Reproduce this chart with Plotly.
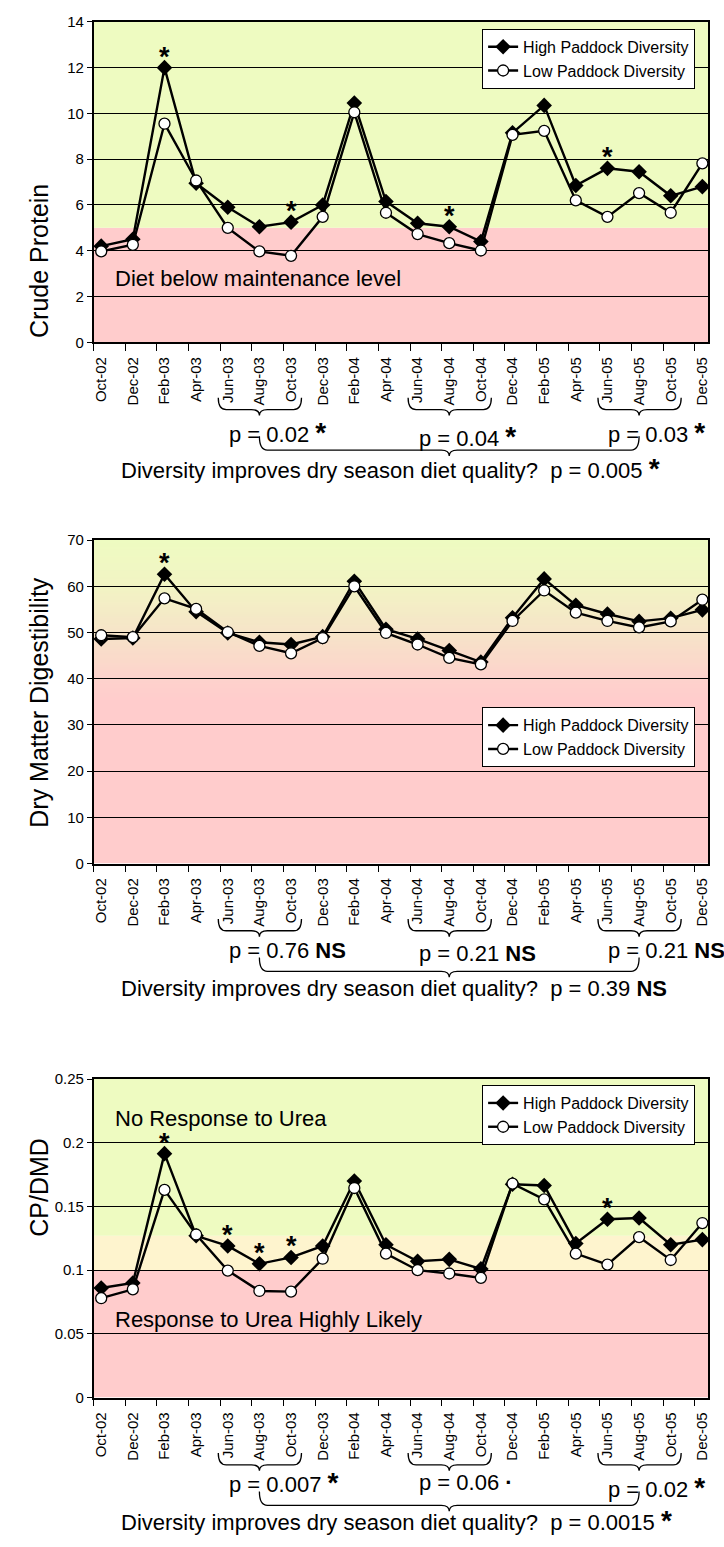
import plotly.graph_objects as go

W, H = 724, 1547
FONT = "Liberation Sans, Arial, sans-serif"

# ---------------- data ----------------
months = ["Oct-02", "Dec-02", "Feb-03", "Apr-03", "Jun-03", "Aug-03", "Oct-03",
          "Dec-03", "Feb-04", "Apr-04", "Jun-04", "Aug-04", "Oct-04", "Dec-04",
          "Feb-05", "Apr-05", "Jun-05", "Aug-05", "Oct-05", "Dec-05"]

cp_high = [4.2, 4.5, 12.0, 6.95, 5.9, 5.05, 5.25, 6.0, 10.45, 6.15,
           5.2, 5.05, 4.4, 9.15, 10.35, 6.85, 7.6, 7.45, 6.4, 6.8]
cp_low = [3.97, 4.26, 9.55, 7.07, 5.0, 3.97, 3.78, 5.48, 10.05, 5.66,
          4.73, 4.33, 4.01, 9.06, 9.24, 6.2, 5.48, 6.52, 5.66, 7.82]

dmd_high = [48.6, 48.8, 62.6, 54.5, 49.9, 47.9, 47.4, 49.1, 61.1, 50.7,
            48.6, 46.1, 43.6, 53.2, 61.6, 55.9, 54.0, 52.4, 53.1, 54.9]
dmd_low = [49.4, 49.0, 57.4, 55.1, 50.1, 47.1, 45.5, 48.8, 60.0, 49.9,
           47.4, 44.5, 43.1, 52.5, 59.1, 54.3, 52.5, 51.1, 52.4, 57.1]

ratio_high = [0.086, 0.090, 0.1915, 0.127, 0.119, 0.105, 0.110, 0.119, 0.170, 0.120,
              0.107, 0.1085, 0.101, 0.1675, 0.1665, 0.121, 0.140, 0.141, 0.120, 0.124]
ratio_low = [0.078, 0.085, 0.163, 0.128, 0.0997, 0.0837, 0.0832, 0.109, 0.1645, 0.113,
             0.100, 0.0974, 0.094, 0.168, 0.1556, 0.113, 0.1044, 0.126, 0.108, 0.137]

# months where the high-diversity value differs significantly
cp_sig = ["Feb-03", "Oct-03", "Aug-04", "Jun-05"]
dmd_sig = ["Feb-03"]
ratio_sig = ["Feb-03", "Jun-03", "Aug-03", "Oct-03", "Jun-05"]

# dry-season groupings and their test results
dry_groups = [("Jun-03", "Aug-03", "Oct-03"),
              ("Jun-04", "Aug-04", "Oct-04"),
              ("Jun-05", "Aug-05", "Oct-05")]
cp_pvals, cp_flags, cp_overall = ["0.02", "0.04", "0.03"], ["*", "*", "*"], ("0.005", "*")
dmd_pvals, dmd_flags, dmd_overall = ["0.76", "0.21", "0.21"], ["NS", "NS", "NS"], ("0.39", "NS")
ratio_pvals, ratio_flags, ratio_overall = ["0.007", "0.06", "0.02"], ["*", "·", "*"], ("0.0015", "*")

cp_ticks = [0, 2, 4, 6, 8, 10, 12, 14]
dmd_ticks = [0, 10, 20, 30, 40, 50, 60, 70]
ratio_ticks = [0, 0.05, 0.1, 0.15, 0.2, 0.25]
ratio_ticktext = ["0", "0.05", "0.1", "0.15", "0.2", "0.25"]

# ---------------- styling ----------------
GREEN = (238, 251, 193)
PINK = (255, 204, 204)
YELLOW = (254, 244, 206)


def rgb(c):
    return "rgb(%d,%d,%d)" % tuple(int(round(v)) for v in c)


def gradient_bands(stops, step):
    """Overlapping horizontal bands interpolated between (value, colour) stops."""
    bands = []
    for (v0, c0), (v1, c1) in zip(stops[:-1], stops[1:]):
        n = max(1, int(round(abs(v1 - v0) / step)))
        for j in range(n):
            a = v0 + (v1 - v0) * j / n
            t = (j + 0.5) / n
            col = tuple(c0[k] + (c1[k] - c0[k]) * t for k in range(3))
            # each band reaches up to the top so later bands cover the seams
            bands.append((a, v1 if j == n - 1 else a + 2 * step, rgb(col)))
    return bands


dmd_bands = [(0, 36, rgb(PINK))] + gradient_bands(
    [(35, PINK), (40, (253, 210, 204)), (50, (246, 228, 200)),
     (60, (242, 244, 196)), (70, GREEN)], 0.5)

panels = [
    dict(high=cp_high, low=cp_low, sig=cp_sig, top=13, bottom=337, rng=[0, 14],
         ticks=cp_ticks, ticktext=[str(t) for t in cp_ticks], title="Crude Protein",
         bands=[(0, 5, rgb(PINK)), (5, 14, rgb(GREEN))], legend_top=20,
         pvals=cp_pvals, flags=cp_flags, overall=cp_overall,
         p_off=(91, 95, 91), div_off=128,
         labels=[("Diet below maintenance level", 2.8)]),
    dict(high=dmd_high, low=dmd_low, sig=dmd_sig, top=537, bottom=864, rng=[0, 70],
         ticks=dmd_ticks, ticktext=[str(t) for t in dmd_ticks],
         title="Dry Matter Digestibility", bands=dmd_bands, legend_top=706,
         pvals=dmd_pvals, flags=dmd_flags, overall=dmd_overall,
         p_off=(88, 91, 88), div_off=126, labels=[]),
    dict(high=ratio_high, low=ratio_low, sig=ratio_sig, top=1082, bottom=1404,
         rng=[0, 0.25], ticks=ratio_ticks, ticktext=ratio_ticktext, title="CP/DMD",
         bands=[(0, 0.1, rgb(PINK)), (0.1, 0.127, rgb(YELLOW)), (0.127, 0.25, rgb(GREEN))],
         legend_top=1088, pvals=ratio_pvals, flags=ratio_flags, overall=ratio_overall,
         p_off=(86, 86, 91), div_off=124,
         labels=[("No Response to Urea", 0.219), ("Response to Urea Highly Likely", 0.0613)]),
]

X_OFF = 0.24                      # sampling point sits just right of its tick
x_pts = [i + X_OFF for i in range(len(months))]
X_RANGE = [0, 19.42]
XDOM = [93 / W, 710 / W]
PX_PER_UNIT = (XDOM[1] - XDOM[0]) * W / (X_RANGE[1] - X_RANGE[0])


def py(px):
    return 1 - px / H


def pos(month):
    return months.index(month) + X_OFF


def flag_html(flag):
    if flag == "*":
        return '<span style="font-size:28px"><b>*</b></span>'
    return "<b>%s</b>" % flag


def brace_path(x0, x1, xt, y_top, y_mid, y_tip):
    """Downward curly brace; x in data units, y in paper units."""
    r = 8 / PX_PER_UNIT
    return ("M {a},{yt} Q {a},{ym} {b},{ym} L {c},{ym} Q {t},{ym} {t},{yp} "
            "Q {t},{ym} {d},{ym} L {e},{ym} Q {f},{ym} {f},{yt}").format(
        a=x0, b=x0 + r, c=xt - r, t=xt, d=xt + r, e=x1 - r, f=x1,
        yt=y_top, ym=y_mid, yp=y_tip)


fig = go.Figure()
shapes, annotations, axes = [], [], {}

for k, p in enumerate(panels, start=1):
    sfx = "" if k == 1 else str(k)
    xa, ya, leg = "x" + sfx, "y" + sfx, "legend" + sfx

    fig.add_trace(go.Scatter(
        x=x_pts, y=p["high"], name="High Paddock Diversity", mode="lines+markers",
        line=dict(color="black", width=2.4),
        marker=dict(symbol="diamond", size=12, color="black"),
        xaxis=xa, yaxis=ya, legend=leg, hoverinfo="skip"))
    fig.add_trace(go.Scatter(
        x=x_pts, y=p["low"], name="Low Paddock Diversity", mode="lines+markers",
        line=dict(color="black", width=2.4),
        marker=dict(symbol="circle", size=11, color="white",
                    line=dict(color="black", width=1.3)),
        xaxis=xa, yaxis=ya, legend=leg, hoverinfo="skip"))

    axes["xaxis" + sfx] = dict(
        domain=XDOM, anchor=ya, range=X_RANGE, tickmode="array", tickvals=x_pts,
        ticktext=months, tickangle=-90, ticks="outside", ticklen=7,
        tickcolor="rgba(0,0,0,0)",
        minor=dict(tickmode="array", tickvals=list(range(len(months))), ticks="outside",
                   ticklen=7, tickwidth=1, tickcolor="black", showgrid=False),
        showgrid=False, zeroline=False, showline=True, mirror=True,
        linecolor="black", linewidth=1.5,
        tickfont=dict(size=15, family=FONT, color="black"))
    axes["yaxis" + sfx] = dict(
        domain=[py(p["bottom"]), py(p["top"])], anchor=xa, range=p["rng"],
        tickmode="array", tickvals=p["ticks"], ticktext=p["ticktext"],
        ticks="outside", ticklen=5, tickwidth=1, tickcolor="black",
        showgrid=True, gridcolor="black", gridwidth=1, zeroline=False,
        showline=True, mirror=True, linecolor="black", linewidth=1.5,
        tickfont=dict(size=15, family=FONT, color="black"))

    # background zones
    for y0, y1, col in p["bands"]:
        shapes.append(dict(type="rect", xref=xa + " domain", yref=ya, x0=0, x1=1,
                           y0=y0, y1=y1, fillcolor=col, line=dict(width=0),
                           layer="below"))

    # legend box
    axes[leg] = dict(x=697 / W, xanchor="right", y=py(p["legend_top"]), yanchor="top",
                     bgcolor="white", bordercolor="black", borderwidth=1,
                     font=dict(size=16, family=FONT, color="black"),
                     tracegroupgap=0)

    # y-axis title
    annotations.append(dict(text=p["title"], xref="paper", yref="paper", x=22 / W,
                            y=py((p["top"] + p["bottom"]) / 2), textangle=-90,
                            showarrow=False, font=dict(size=25, family=FONT, color="black")))

    # zone labels
    for txt, yv in p["labels"]:
        annotations.append(dict(text=txt, xref="paper", yref=ya, x=112 / W, y=yv,
                                xanchor="left", showarrow=False,
                                font=dict(size=22, family=FONT, color="black")))

    # significance stars above high-diversity points
    for m in p["sig"]:
        i = months.index(m)
        annotations.append(dict(text="<b>*</b>", xref=xa, yref=ya, x=x_pts[i],
                                y=p["high"][i], yshift=11, showarrow=False,
                                font=dict(size=27, family=FONT, color="black")))

    # dry season braces and p-values
    b = p["bottom"]
    for g, (grp, pv, fl) in enumerate(zip(dry_groups, p["pvals"], p["flags"])):
        shapes.append(dict(type="path", xref=xa, yref="paper",
                           path=brace_path(pos(grp[0]) - 0.30, pos(grp[-1]) + 0.33,
                                           pos(grp[1]), py(b + 56), py(b + 68), py(b + 74)),
                           line=dict(color="black", width=1.3)))
        annotations.append(dict(text="p = %s %s" % (pv, flag_html(fl)), xref=xa,
                                yref="paper", x=pos(grp[0]) - 0.03, y=py(b + p["p_off"][g]),
                                xanchor="left", yanchor="middle", showarrow=False,
                                font=dict(size=22, family=FONT, color="black")))
    mid0, mid1 = pos(dry_groups[0][1]), pos(dry_groups[-1][1])
    shapes.append(dict(type="path", xref=xa, yref="paper",
                       path=brace_path(mid0, mid1, (mid0 + mid1) / 2,
                                       py(b + 95), py(b + 109), py(b + 115)),
                       line=dict(color="black", width=1.3)))
    annotations.append(dict(
        text="Diversity improves dry season diet quality?\u00a0 p = %s %s"
             % (p["overall"][0], flag_html(p["overall"][1])),
        xref="paper", yref="paper", x=118 / W, y=py(b + p["div_off"]),
        xanchor="left", yanchor="middle", showarrow=False,
        font=dict(size=22, family=FONT, color="black")))

fig.update_layout(
    width=W, height=H, autosize=False,
    margin=dict(l=0, r=0, t=0, b=0),
    paper_bgcolor="white", plot_bgcolor="white",
    font=dict(family=FONT, color="black"),
    showlegend=True, shapes=shapes, annotations=annotations, **axes)

fig.write_html("out.html")
